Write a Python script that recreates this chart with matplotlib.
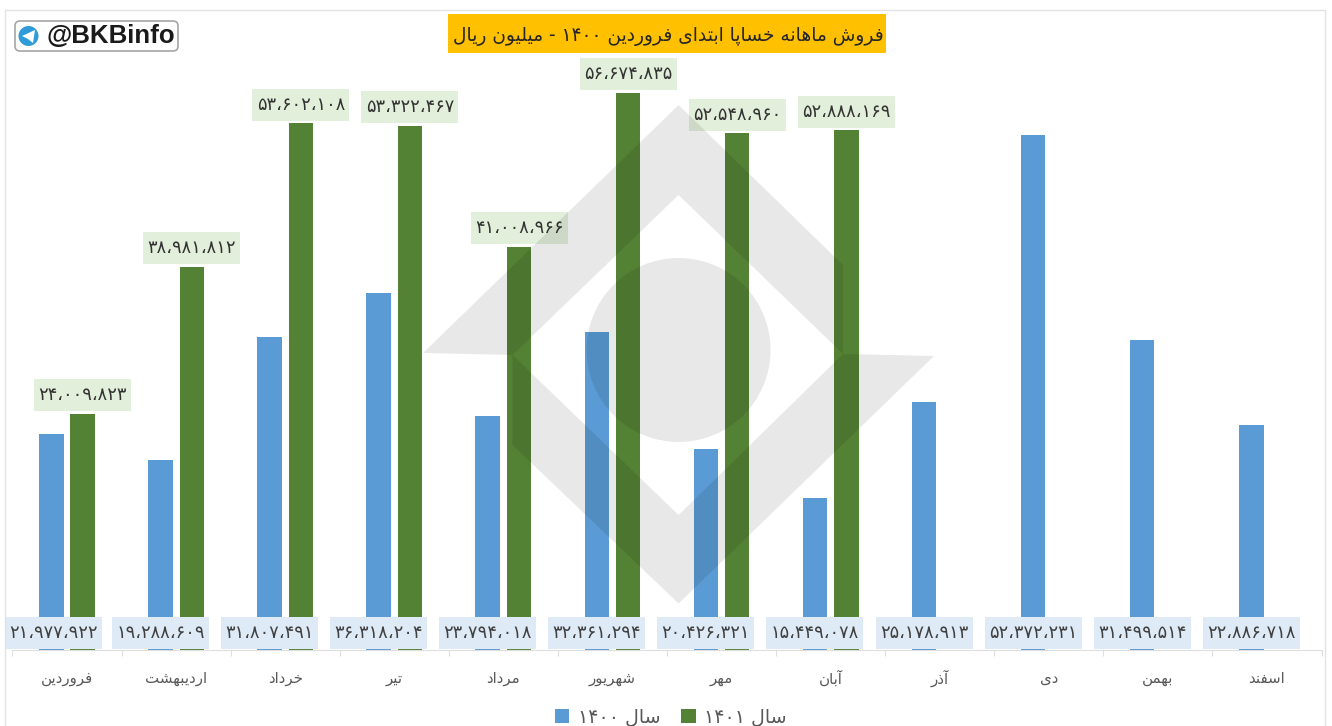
import matplotlib
matplotlib.use('Agg')
import matplotlib.pyplot as plt
import numpy as np
from matplotlib.patches import Circle, FancyBboxPatch, Polygon, Rectangle

months = ['فروردین', 'اردیبهشت', 'خرداد', 'تیر', 'مرداد', 'شهریور',
          'مهر', 'آبان', 'آذر', 'دی', 'بهمن', 'اسفند']
sales_1400 = [21977922, 19288609, 31807491, 36318204, 23794018, 32361294,
              20426321, 15449078, 25178913, 52372231, 31499514, 22886718]
sales_1401 = [24009823, 38981812, 53602108, 53322467, 41008966, 56674835,
              52548960, 52888169]
title = 'فروش ماهانه خساپا ابتدای فروردین ۱۴۰۰ - میلیون ریال'
series_names = ['سال ۱۴۰۰', 'سال ۱۴۰۱']

W, H = 1332, 726
blue, green = '#5b9bd5', '#548235'
blue_box, green_box = '#deeaf6', '#e2efda'

# matplotlib has no arabic shaping, so pick the contextual forms by hand
# letter: isolated, final, initial, medial
forms = {
    'ا': 'ﺍﺎ', 'آ': 'ﺁﺂ', 'د': 'ﺩﺪ', 'ذ': 'ﺫﺬ', 'ر': 'ﺭﺮ', 'و': 'ﻭﻮ',
    'ب': 'ﺏﺐﺑﺒ', 'پ': 'ﭖﭗﭘﭙ', 'ت': 'ﺕﺖﺗﺘ', 'خ': 'ﺥﺦﺧﺨ', 'س': 'ﺱﺲﺳﺴ',
    'ش': 'ﺵﺶﺷﺸ', 'ف': 'ﻑﻒﻓﻔ', 'ل': 'ﻝﻞﻟﻠ', 'م': 'ﻡﻢﻣﻤ', 'ن': 'ﻥﻦﻧﻨ',
    'ه': 'ﻩﻪﻫﻬ', 'ی': 'ﯼﯽﯾﯿ',
}


def shape_word(word):
    out = []
    for i, c in enumerate(word):
        if c not in forms:
            out.append(c)
            continue
        prev_joins = i > 0 and word[i - 1] in forms and len(forms[word[i - 1]]) == 4
        next_joins = i < len(word) - 1 and word[i + 1] in forms and len(forms[c]) == 4
        if prev_joins and next_joins:
            out.append(forms[c][3])
        elif next_joins:
            out.append(forms[c][2])
        elif prev_joins:
            out.append(forms[c][1])
        else:
            out.append(forms[c][0])
    return ''.join(out[::-1])


def rtl(text):
    words = [w if w[0] in '۰۱۲۳۴۵۶۷۸۹' else shape_word(w) for w in text.split(' ')]
    return ' '.join(words[::-1])


def fa_number(v):
    return f'{v:,}'.translate(str.maketrans('0123456789,', '۰۱۲۳۴۵۶۷۸۹،'))


fig = plt.figure(figsize=(W / 100, H / 100), dpi=100)
ax = fig.add_axes([12.5 / W, (H - 650) / H, 1309 / W, 640 / H])
px_x = 12 / 1309  # x axis units for one pixel
px_y = 65.1 / 640  # y axis units for one pixel

x = np.arange(len(months))
y_1400 = np.array(sales_1400) / 1e6
y_1401 = np.array(sales_1401) / 1e6
x_1400 = x - 15.7 * px_x
x_1401 = x[:len(y_1401)] + 15.7 * px_x
bar_w = 24.5 * px_x
box_w, box_h = 97 * px_x, 32 * px_y
# first box is pushed right so it stays inside the chart frame
x_box = np.maximum(x_1400, -0.5 - 7.5 * px_x + box_w / 2)

bars_1400 = ax.bar(x_1400, y_1400, bar_w, color=blue, zorder=2)
bars_1401 = ax.bar(x_1401, y_1401, bar_w, color=green, zorder=2)

# value boxes, inside base for 1400 and on top of the bar for 1401
ax.bar(x_box, box_h, box_w, bottom=1.2 * px_y, color=blue_box, zorder=3, clip_on=False)
ax.bar(x_1401, box_h, box_w, bottom=y_1401 + 2.5 * px_y, color=green_box, zorder=3, clip_on=False)
for xi, v in zip(x_box, sales_1400):
    ax.text(xi, 1.2 * px_y + box_h / 2, fa_number(v), ha='center', va='center',
            fontsize=12.9, color='#404040', family='DejaVu Sans', zorder=4, clip_on=False)
for xi, yi, v in zip(x_1401, y_1401, sales_1401):
    ax.text(xi, yi + 2.5 * px_y + box_h / 2, fa_number(v), ha='center', va='center',
            fontsize=12.9, color='#333333', family='DejaVu Sans', zorder=4, clip_on=False)

ax.set_xlim(-0.5, 11.5)
ax.set_ylim(0, 65.1)
ax.set_yticks([])
ax.set_xticks(np.arange(-0.5, 12, 1))
ax.set_xticklabels([])
ax.set_xticks(x, [rtl(m) for m in months], minor=True)
ax.tick_params(axis='x', which='major', length=4, color='#dedede')
ax.tick_params(axis='x', which='minor', length=0, pad=20.5, labelsize=10.8, labelcolor='#595959')
for lab in ax.get_xticklabels(minor=True):
    lab.set_va('center')
for side in ['left', 'right', 'top']:
    ax.spines[side].set_visible(False)
ax.spines['bottom'].set_color('#dedede')
ax.patch.set_alpha(0)

fig.legend([bars_1400, bars_1401], [rtl(s) for s in series_names], ncol=2, frameon=False,
           loc='center', bbox_to_anchor=(671 / W, (H - 717) / H), fontsize=13.7, labelcolor='#595959',
           handlelength=0.75, handleheight=0.75, handletextpad=0.45, columnspacing=1.1)

# overlay in pixel coordinates for frame, title, logo and watermark
over = fig.add_axes([0, 0, 1, 1], zorder=5)
over.set_xlim(0, W)
over.set_ylim(H, 0)
over.axis('off')

over.add_patch(Rectangle((5, 10), 1320, 730, fill=False, ec='#e2e2e2', lw=1))

over.add_patch(Rectangle((448, 14), 438, 39, color='#ffc000', lw=0))
over.text(668, 36, rtl(title), ha='center', va='center', fontsize=13.4, color='#262626')

over.add_patch(FancyBboxPatch((18, 24), 157, 24, boxstyle='round,pad=3,rounding_size=5',
                              fc='white', ec='#a6a6a6', lw=1.2))
over.add_patch(Circle((28.5, 36), 10, color='#2f9bd8', lw=0))
over.add_patch(Polygon([(22, 36), (35, 30), (33, 43), (28, 39)], color='white', lw=0))
over.text(46, 36, '@BKBinfo', ha='left', va='center', fontsize=18.6, fontweight='bold',
          family='Liberation Sans', color='#1a1a1a')

# watermark lies on top of the bars and boxes
wm = dict(color='black', alpha=0.09, lw=0)
over.add_patch(Polygon([(423, 353), (678.6, 105), (843, 265), (843, 354), (678.6, 195), (512.5, 355)], **wm))
over.add_patch(Polygon([(934, 356), (678.6, 603.5), (512.5, 445), (512.5, 355), (678.6, 515), (843, 354)], **wm))
over.add_patch(Circle((678.6, 350), 92, **wm))

plt.savefig('out.png', dpi=100)
